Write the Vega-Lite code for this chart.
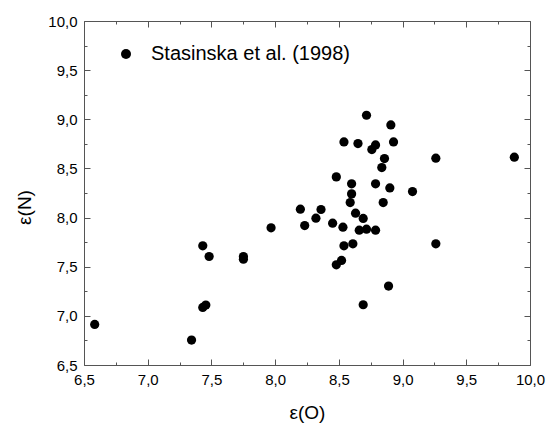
{
  "$schema": "https://vega.github.io/schema/vega-lite/v6.json",
  "width": 446,
  "height": 344,
  "autosize": "none",
  "padding": {"left": 84, "top": 21, "right": 23, "bottom": 59},
  "config": {
    "font": "Liberation Sans",
    "view": {"stroke": "#555555", "strokeWidth": 1},
    "axis": {
      "grid": false,
      "domain": false,
      "tickColor": "#555555",
      "tickWidth": 1,
      "labelColor": "#000000",
      "titleColor": "#000000",
      "labelFont": "Liberation Sans",
      "titleFont": "Liberation Sans",
      "labelFontSize": 15,
      "titleFontSize": 19,
      "titleFontWeight": "normal"
    }
  },
  "data": {
    "values": [
      {"o": 6.584, "n": 6.913, "series": "Stasinska et al. (1998)"},
      {"o": 7.344, "n": 6.754, "series": "Stasinska et al. (1998)"},
      {"o": 7.432, "n": 7.713, "series": "Stasinska et al. (1998)"},
      {"o": 7.482, "n": 7.604, "series": "Stasinska et al. (1998)"},
      {"o": 7.432, "n": 7.086, "series": "Stasinska et al. (1998)"},
      {"o": 7.456, "n": 7.110, "series": "Stasinska et al. (1998)"},
      {"o": 7.751, "n": 7.604, "series": "Stasinska et al. (1998)"},
      {"o": 7.751, "n": 7.577, "series": "Stasinska et al. (1998)"},
      {"o": 7.968, "n": 7.896, "series": "Stasinska et al. (1998)"},
      {"o": 8.198, "n": 8.085, "series": "Stasinska et al. (1998)"},
      {"o": 8.232, "n": 7.919, "series": "Stasinska et al. (1998)"},
      {"o": 8.320, "n": 7.994, "series": "Stasinska et al. (1998)"},
      {"o": 8.360, "n": 8.082, "series": "Stasinska et al. (1998)"},
      {"o": 8.451, "n": 7.943, "series": "Stasinska et al. (1998)"},
      {"o": 8.480, "n": 8.414, "series": "Stasinska et al. (1998)"},
      {"o": 8.532, "n": 7.902, "series": "Stasinska et al. (1998)"},
      {"o": 8.540, "n": 8.770, "series": "Stasinska et al. (1998)"},
      {"o": 8.480, "n": 7.519, "series": "Stasinska et al. (1998)"},
      {"o": 8.521, "n": 7.564, "series": "Stasinska et al. (1998)"},
      {"o": 8.540, "n": 7.713, "series": "Stasinska et al. (1998)"},
      {"o": 8.610, "n": 7.733, "series": "Stasinska et al. (1998)"},
      {"o": 8.600, "n": 8.343, "series": "Stasinska et al. (1998)"},
      {"o": 8.600, "n": 8.241, "series": "Stasinska et al. (1998)"},
      {"o": 8.589, "n": 8.153, "series": "Stasinska et al. (1998)"},
      {"o": 8.631, "n": 8.045, "series": "Stasinska et al. (1998)"},
      {"o": 8.650, "n": 8.753, "series": "Stasinska et al. (1998)"},
      {"o": 8.717, "n": 9.041, "series": "Stasinska et al. (1998)"},
      {"o": 8.691, "n": 7.991, "series": "Stasinska et al. (1998)"},
      {"o": 8.660, "n": 7.872, "series": "Stasinska et al. (1998)"},
      {"o": 8.717, "n": 7.882, "series": "Stasinska et al. (1998)"},
      {"o": 8.788, "n": 7.872, "series": "Stasinska et al. (1998)"},
      {"o": 8.691, "n": 7.113, "series": "Stasinska et al. (1998)"},
      {"o": 8.759, "n": 8.692, "series": "Stasinska et al. (1998)"},
      {"o": 8.788, "n": 8.739, "series": "Stasinska et al. (1998)"},
      {"o": 8.858, "n": 8.600, "series": "Stasinska et al. (1998)"},
      {"o": 8.837, "n": 8.509, "series": "Stasinska et al. (1998)"},
      {"o": 8.788, "n": 8.343, "series": "Stasinska et al. (1998)"},
      {"o": 8.900, "n": 8.302, "series": "Stasinska et al. (1998)"},
      {"o": 8.848, "n": 8.153, "series": "Stasinska et al. (1998)"},
      {"o": 8.908, "n": 8.943, "series": "Stasinska et al. (1998)"},
      {"o": 8.929, "n": 8.770, "series": "Stasinska et al. (1998)"},
      {"o": 8.890, "n": 7.303, "series": "Stasinska et al. (1998)"},
      {"o": 9.078, "n": 8.265, "series": "Stasinska et al. (1998)"},
      {"o": 9.261, "n": 8.604, "series": "Stasinska et al. (1998)"},
      {"o": 9.261, "n": 7.733, "series": "Stasinska et al. (1998)"},
      {"o": 9.877, "n": 8.614, "series": "Stasinska et al. (1998)"}
    ]
  },
  "resolve": {"axis": {"x": "independent", "y": "independent"}},
  "layer": [
    {
      "mark": {"type": "point", "filled": true, "opacity": 1, "size": 85, "shape": "circle"},
      "encoding": {
        "x": {
          "field": "o", "type": "quantitative",
          "scale": {"domain": [6.5, 10.0], "nice": false, "zero": false},
          "axis": {
            "orient": "bottom",
            "title": "ε(O)",
            "values": [6.5, 6.75, 7.0, 7.25, 7.5, 7.75, 8.0, 8.25, 8.5, 8.75, 9.0, 9.25, 9.5, 9.75, 10.0],
            "labelExpr": "abs(datum.value*2 - round(datum.value*2)) < 0.01 ? replace(format(datum.value, '.1f'), '.', ',') : ''",
            "tickSize": {"condition": {"test": "abs(datum.value*2 - round(datum.value*2)) < 0.01", "value": -6}, "value": -3},
            "labelPadding": 13,
            "labelFlush": false,
            "labelOverlap": false,
            "titleX": 223,
            "titleY": 53,
            "titleAlign": "center",
            "titleBaseline": "alphabetic"
          }
        },
        "y": {
          "field": "n", "type": "quantitative",
          "scale": {"domain": [6.5, 10.0], "nice": false, "zero": false},
          "axis": {
            "orient": "left",
            "title": "ε(N)",
            "values": [6.5, 6.75, 7.0, 7.25, 7.5, 7.75, 8.0, 8.25, 8.5, 8.75, 9.0, 9.25, 9.5, 9.75, 10.0],
            "labelExpr": "abs(datum.value*2 - round(datum.value*2)) < 0.01 ? replace(format(datum.value, '.1f'), '.', ',') : ''",
            "tickSize": {"condition": {"test": "abs(datum.value*2 - round(datum.value*2)) < 0.01", "value": -6}, "value": -3},
            "labelPadding": 13,
            "labelFlush": false,
            "labelOverlap": false,
            "titleX": -60,
            "titleY": 186,
            "titleAngle": -90,
            "titleAlign": "center",
            "titleBaseline": "middle"
          }
        },
        "color": {
          "field": "series", "type": "nominal",
          "scale": {"range": ["#000000"]},
          "legend": {
            "title": null,
            "orient": "none",
            "legendX": 32,
            "legendY": 23,
            "padding": 0,
            "symbolType": "circle",
            "symbolSize": 100,
            "symbolStrokeWidth": 0,
            "labelFontSize": 20,
            "labelFont": "Liberation Sans",
            "labelColor": "#000000",
            "labelLimit": 400,
            "labelOffset": 15
          }
        }
      }
    },
    {
      "mark": {"type": "point", "filled": true, "opacity": 0, "size": 85},
      "encoding": {
        "x": {
          "field": "o", "type": "quantitative",
          "axis": {
            "orient": "top",
            "title": null,
            "labels": false,
            "values": [6.5, 6.75, 7.0, 7.25, 7.5, 7.75, 8.0, 8.25, 8.5, 8.75, 9.0, 9.25, 9.5, 9.75, 10.0],
            "tickSize": {"condition": {"test": "abs(datum.value*2 - round(datum.value*2)) < 0.01", "value": -6}, "value": -3}
          }
        },
        "y": {
          "field": "n", "type": "quantitative",
          "axis": {
            "orient": "right",
            "title": null,
            "labels": false,
            "values": [6.5, 6.75, 7.0, 7.25, 7.5, 7.75, 8.0, 8.25, 8.5, 8.75, 9.0, 9.25, 9.5, 9.75, 10.0],
            "tickSize": {"condition": {"test": "abs(datum.value*2 - round(datum.value*2)) < 0.01", "value": -6}, "value": -3}
          }
        }
      }
    }
  ]
}
